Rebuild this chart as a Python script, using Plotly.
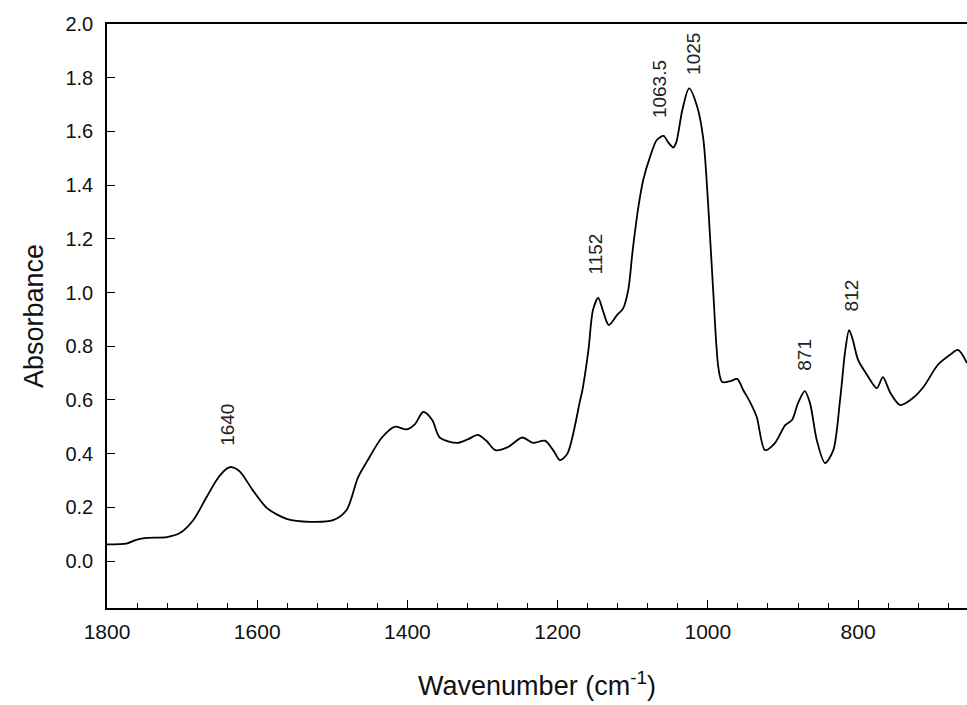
import plotly.graph_objects as go

wavenumber = [1800, 1773, 1760, 1747, 1720, 1703, 1685, 1667, 1652, 1640, 1634, 1623, 1606, 1587,
              1560, 1530, 1499, 1481, 1466, 1454, 1434, 1417, 1401, 1390, 1379, 1367, 1357, 1334,
              1319, 1306, 1294, 1283, 1267, 1247, 1233, 1217, 1206, 1197, 1187, 1170, 1167, 1159,
              1153, 1146, 1140, 1132, 1121, 1113, 1106, 1100, 1093, 1086, 1077, 1068, 1059, 1053,
              1046, 1042, 1034, 1025, 1014, 1006, 1000, 993, 986, 981, 970, 961, 953, 944, 935,
              924, 911, 897, 888, 880, 871, 864, 855, 844, 833, 824, 817, 812, 807, 800, 788,
              775, 767, 757, 744, 727, 713, 694, 678, 667, 655]
absorbance = [0.062, 0.066, 0.080, 0.086, 0.089, 0.104, 0.153, 0.240, 0.310, 0.345, 0.350, 0.333,
              0.264, 0.197, 0.156, 0.146, 0.152, 0.190, 0.310, 0.370, 0.460, 0.500, 0.490, 0.510,
              0.555, 0.525, 0.460, 0.440, 0.454, 0.470, 0.445, 0.413, 0.423, 0.460, 0.440, 0.448,
              0.413, 0.376, 0.400, 0.600, 0.637, 0.786, 0.935, 0.980, 0.935, 0.879, 0.916, 0.940,
              1.010, 1.160, 1.310, 1.420, 1.505, 1.568, 1.583, 1.560, 1.540, 1.560, 1.680, 1.760,
              1.690, 1.570, 1.345, 1.010, 0.720, 0.667, 0.670, 0.678, 0.637, 0.593, 0.537, 0.413,
              0.438, 0.506, 0.525, 0.588, 0.633, 0.588, 0.450, 0.365, 0.413, 0.600, 0.786, 0.860,
              0.823, 0.749, 0.693, 0.644, 0.685, 0.626, 0.581, 0.607, 0.648, 0.730, 0.767, 0.786,
              0.737]

peak_labels = ["1640", "1152", "1063.5", "1025", "871", "812"]
peak_x = [1639, 1149, 1065, 1020, 871, 809]
peak_y = [0.425, 1.065, 1.646, 1.806, 0.704, 0.927]

FONT = "Liberation Sans, Arial"

fig = go.Figure()
fig.add_trace(go.Scatter(x=wavenumber, y=absorbance, mode="lines",
                         line=dict(color="black", width=1.8, shape="spline", smoothing=0.8),
                         showlegend=False, hoverinfo="skip"))

for lab, px, py in zip(peak_labels, peak_x, peak_y):
    fig.add_annotation(x=px, y=py, text=lab, textangle=-90, showarrow=False,
                       xanchor="center", yanchor="bottom", borderpad=0,
                       font=dict(family=FONT, size=19, color="#222"))

fig.update_layout(
    width=967, height=705,
    margin=dict(l=107, r=0, t=24, b=97),
    paper_bgcolor="white", plot_bgcolor="white",
    font=dict(family=FONT, color="black"),
    xaxis=dict(range=[1800, 655], showgrid=False, zeroline=False,
               showline=True, linecolor="black", linewidth=1.5, mirror=True,
               ticks="inside", ticklen=8, tickwidth=1.2, tickcolor="black",
               tick0=1800, dtick=200, tickfont=dict(size=21, color="#111"),
               ticklabelstandoff=4,
               minor=dict(dtick=40, ticks="inside", ticklen=5, tickwidth=1, tickcolor="black"),
               title=dict(text="Wavenumber (cm<sup>-1</sup>)", font=dict(size=27, color="#111"), standoff=34)),
    yaxis=dict(range=[-0.175, 2.0], showgrid=False, zeroline=False,
               showline=True, linecolor="black", linewidth=1.5,
               ticks="inside", ticklen=8, tickwidth=1.2, tickcolor="black",
               tick0=0, dtick=0.2, tickformat=".1f", tickfont=dict(size=20, color="#111"),
               ticklabelstandoff=8,
               title=dict(text="Absorbance", font=dict(size=27, color="#111"), standoff=14)),
)

fig.write_html("out.html")
